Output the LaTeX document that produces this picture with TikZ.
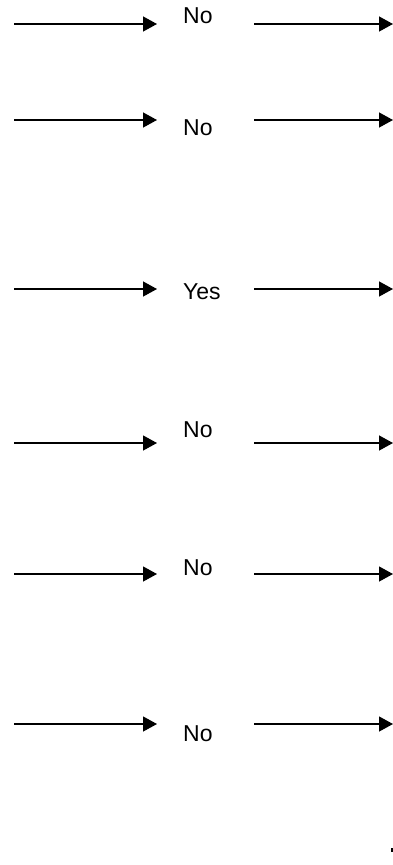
\documentclass[tikz,border=0pt]{standalone}
\usepackage{fontspec}
\setmainfont{Liberation Sans}
\usetikzlibrary{arrows.meta}
\tikzset{
  flow/.style={line width=1.3pt,-{Triangle[length=14pt,width=15pt]}},
  lbl/.style={inner sep=0pt,anchor=base west,font=\fontsize{23}{25}\selectfont}
}
\begin{document}
\begin{tikzpicture}[x=1pt,y=-1pt]
\useasboundingbox (0,0) rectangle (393,865);
% rows: arrow y, label baseline y, label x
\foreach \i/\ay/\ty/\tx/\t in {1/24/23.3/183/No,2/120/135/183/No,3/289/299.5/183/Yes,4/443/437.8/183/No,5/574/575.3/183/No,6/724/741/183/No}{
  \coordinate (s\i) at (14,\ay);
  \coordinate (e\i) at (157,\ay);
  \node[lbl] (t\i) at (\tx,\ty) {\t};
  \coordinate (r\i) at (254,\ay);
  \coordinate (q\i) at (393,\ay);
  \draw[flow] (s\i) -- (e\i);
  \draw[flow] (r\i) -- (q\i);
}
\fill (391,848) rectangle (393,852);
\end{tikzpicture}
\end{document}
